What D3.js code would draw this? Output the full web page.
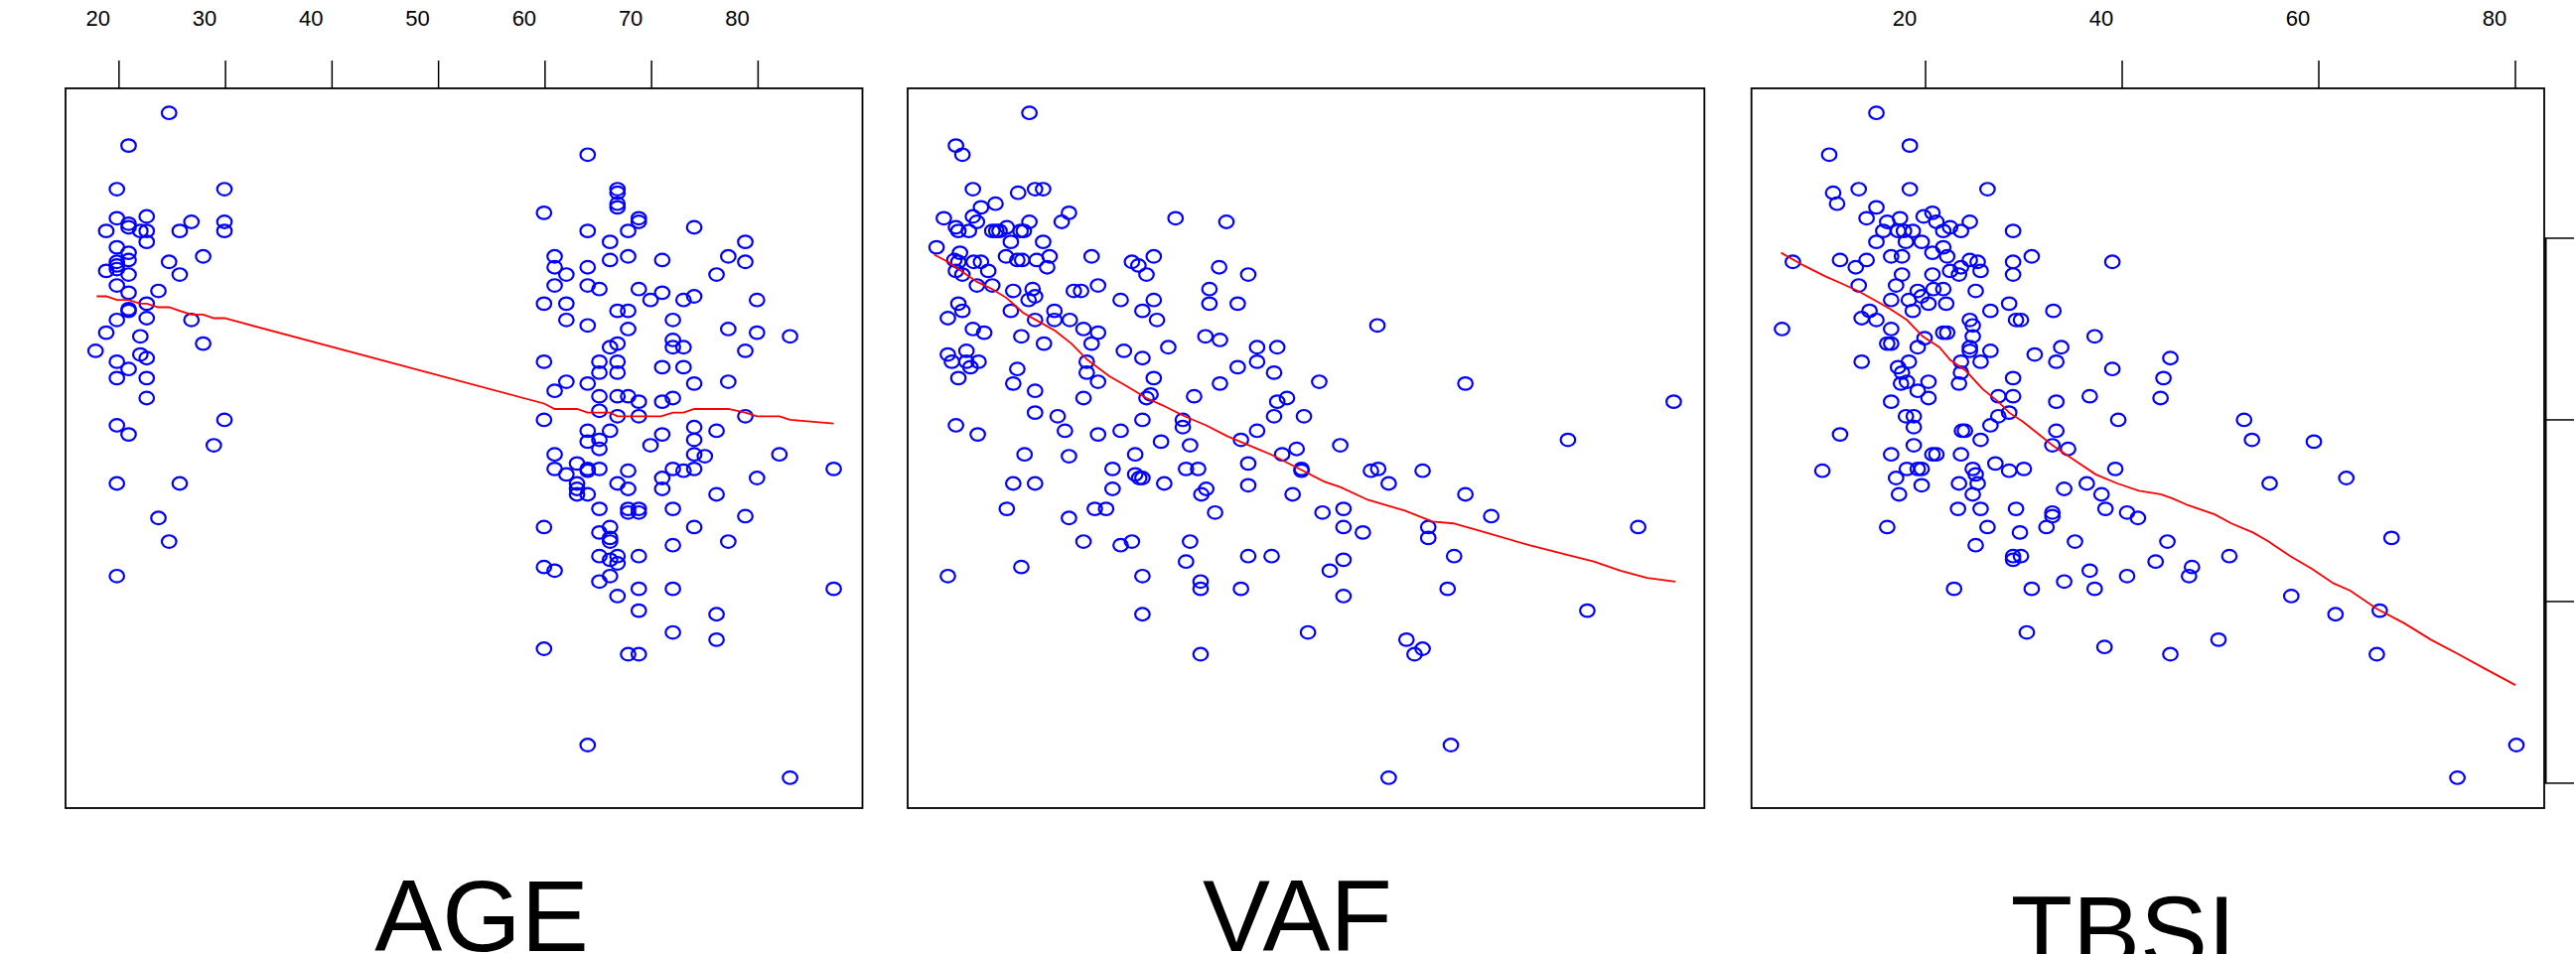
<!DOCTYPE html>
<html>
<head>
<meta charset="utf-8">
<script src="https://cdn.jsdelivr.net/npm/d3@7"></script>
<style>
  body { margin: 0; background: #fff; overflow: hidden; }
  svg { display: block; }
</style>
</head>
<body>
<svg id="chart"></svg>
<script>
// ---- data ----
const panelNames = ["AGE", "VAF", "TBSI"];
const ageTicks = [20, 30, 40, 50, 60, 70, 80];
const tbsiTicks = [20, 40, 60, 80];
const respTicks = [0, 1, 2, 3];

// [AGE, response]
const agePoints = [
  [24.7,3.69],[20.9,3.51],[19.8,3.27],[29.9,3.27],[19.8,3.11],[22.6,3.12],[20.9,3.08],[20.9,3.06],[26.8,3.09],[29.9,3.09],
  [18.8,3.04],[22.0,3.04],[22.6,3.04],[25.7,3.04],[29.9,3.04],[22.6,2.98],[19.8,2.95],[20.9,2.92],[27.9,2.90],
  [19.8,2.87],[20.9,2.88],[24.7,2.87],[18.8,2.82],[19.8,2.83],[19.8,2.85],[20.9,2.80],[25.7,2.80],[19.8,2.74],
  [20.9,2.70],[23.7,2.71],[22.6,2.64],[20.9,2.60],[20.9,2.61],[22.6,2.56],[19.8,2.55],[26.8,2.55],[18.8,2.48],[22.0,2.46],
  [27.9,2.42],[17.8,2.38],[22.0,2.36],[22.6,2.34],[19.8,2.32],[20.9,2.28],[19.8,2.23],[22.6,2.23],[22.6,2.12],
  [19.8,1.97],[20.9,1.92],[29.9,2.00],[28.9,1.86],[19.8,1.65],[25.7,1.65],[23.7,1.46],[24.7,1.33],[19.8,1.14],
  [64.0,3.46],[66.8,3.27],[66.8,3.25],[66.8,3.19],[66.8,3.17],[59.9,3.14],[68.8,3.11],[68.8,3.09],[74.0,3.06],
  [64.0,3.04],[67.8,3.04],[66.1,2.98],[78.8,2.98],[60.9,2.90],[67.8,2.90],[77.2,2.90],[66.1,2.88],[71.0,2.88],[78.8,2.87],
  [60.9,2.84],[64.0,2.84],[62.0,2.80],[76.1,2.80],[60.9,2.74],[64.0,2.74],[65.1,2.72],[68.8,2.72],[71.0,2.70],
  [74.0,2.68],[73.0,2.66],[69.9,2.66],[79.9,2.66],[59.9,2.64],[62.0,2.64],[66.8,2.60],[67.8,2.60],[62.0,2.55],[72.0,2.55],
  [64.0,2.52],[67.8,2.50],[77.2,2.50],[79.9,2.48],[83.0,2.46],[72.0,2.44],[66.8,2.42],[66.1,2.40],[72.0,2.40],[73.0,2.40],[78.8,2.38],
  [59.9,2.32],[65.1,2.32],[66.8,2.32],[71.0,2.29],[73.0,2.29],[65.1,2.26],[66.8,2.26],[62.0,2.21],[64.0,2.20],[74.0,2.20],[77.2,2.21],
  [60.9,2.16],[65.1,2.13],[66.8,2.13],[67.8,2.13],[68.8,2.10],[71.0,2.10],[72.0,2.12],[65.1,2.05],[66.8,2.02],[68.8,2.02],[78.8,2.02],
  [59.9,2.00],[74.0,1.96],[64.0,1.94],[66.1,1.94],[76.1,1.94],[71.0,1.92],[65.1,1.89],[74.0,1.89],[64.0,1.88],[65.1,1.84],[69.9,1.86],
  [60.9,1.81],[74.0,1.81],[75.0,1.80],[82.0,1.81],[63.0,1.76],[64.0,1.73],[60.9,1.73],[65.1,1.73],[62.0,1.70],[67.8,1.72],[72.0,1.73],
  [73.0,1.72],[74.0,1.73],[64.0,1.72],[71.0,1.68],[79.9,1.68],[63.0,1.65],[63.0,1.62],[66.8,1.65],[67.8,1.62],[71.0,1.62],
  [63.0,1.59],[64.0,1.59],[76.1,1.59],[65.1,1.51],[67.8,1.51],[67.8,1.49],[68.8,1.51],[68.8,1.49],[72.0,1.51],[78.8,1.47],
  [59.9,1.41],[66.1,1.41],[74.0,1.41],[65.1,1.38],[66.1,1.35],[66.1,1.33],[77.2,1.33],[72.0,1.31],
  [65.1,1.25],[66.8,1.25],[68.8,1.25],[66.1,1.23],[66.8,1.21],[59.9,1.19],[60.9,1.17],[66.1,1.14],[65.1,1.11],
  [68.8,1.07],[72.0,1.07],[87.1,1.07],[66.8,1.03],[68.8,0.95],[76.1,0.93],[72.0,0.83],[76.1,0.79],[59.9,0.74],
  [67.8,0.71],[68.8,0.71],[64.0,0.21],[83.0,0.03],[87.1,1.73]
];
const ageSmooth = [
  [17.9,2.68],[18.8,2.68],[19.8,2.66],[20.9,2.66],[22.0,2.64],[22.6,2.64],[23.7,2.62],[24.7,2.62],[25.7,2.60],[26.8,2.58],
  [27.9,2.58],[28.9,2.56],[29.9,2.56],[59.9,2.09],[60.9,2.06],[63.0,2.06],[64.0,2.04],[66.1,2.04],[66.8,2.02],[70.9,2.02],
  [72.0,2.04],[73.0,2.04],[74.0,2.06],[77.2,2.06],[78.8,2.04],[79.9,2.02],[82.0,2.02],[83.0,2.00],[87.1,1.98]
];

// [VAF, response]
const vafPoints = [
  [16.8,3.69],[7.7,3.51],[8.5,3.46],[9.8,3.27],[15.4,3.25],[17.5,3.27],[18.5,3.27],[12.6,3.19],[10.8,3.17],[21.7,3.14],
  [6.2,3.11],[9.8,3.12],[10.3,3.09],[16.8,3.09],[20.8,3.09],[7.7,3.06],[8.0,3.04],[9.3,3.04],[12.2,3.04],[12.7,3.04],[13.1,3.04],
  [14.0,3.06],[15.7,3.04],[16.1,3.04],[14.5,2.98],[18.5,2.98],[5.3,2.95],[8.2,2.92],[13.9,2.90],[19.3,2.90],[24.5,2.90],[32.2,2.90],
  [7.5,2.88],[8.0,2.87],[9.9,2.87],[10.8,2.87],[15.3,2.88],[15.9,2.88],[17.7,2.88],[29.5,2.87],[30.3,2.85],[31.3,2.80],[34.9,3.11],[41.2,3.09],
  [7.7,2.82],[8.5,2.80],[11.7,2.82],[19.0,2.84],[10.3,2.74],[12.2,2.74],[25.3,2.74],[22.3,2.71],[23.2,2.71],[17.2,2.72],[14.8,2.71],
  [17.5,2.68],[16.7,2.66],[39.1,2.72],[40.3,2.84],[43.9,2.80],[8.0,2.64],[8.5,2.60],[14.5,2.60],[19.9,2.60],[28.1,2.66],[30.8,2.60],
  [32.2,2.66],[39.1,2.64],[42.6,2.64],[6.7,2.56],[17.5,2.55],[19.9,2.55],[21.8,2.55],[32.6,2.55],[9.8,2.50],[11.2,2.48],[15.8,2.46],
  [23.5,2.50],[25.3,2.48],[38.6,2.46],[40.4,2.44],[59.9,2.52],[18.6,2.42],[24.5,2.42],[6.7,2.36],[9.0,2.38],[7.2,2.32],[9.0,2.32],
  [9.5,2.29],[10.5,2.32],[8.0,2.23],[15.3,2.28],[14.8,2.20],[28.5,2.38],[30.8,2.34],[34.0,2.40],[42.6,2.29],[45.0,2.40],[47.5,2.40],
  [45.0,2.32],[47.1,2.26],[23.9,2.32],[23.9,2.26],[25.3,2.21],[32.2,2.23],[40.4,2.20],[52.7,2.21],[70.8,2.20],[17.5,2.16],[23.5,2.12],
  [31.3,2.12],[31.8,2.14],[37.2,2.13],[47.5,2.10],[48.7,2.12],[17.5,2.04],[20.3,2.02],[30.8,2.00],[35.8,2.00],[35.8,1.96],[47.1,2.02],
  [50.8,2.02],[96.6,2.10],[7.7,1.97],[10.4,1.92],[21.2,1.94],[25.3,1.92],[28.1,1.94],[45.0,1.94],[33.1,1.88],[36.7,1.86],[43.0,1.89],
  [16.2,1.81],[21.7,1.80],[29.9,1.81],[48.1,1.81],[49.9,1.84],[55.3,1.86],[83.5,1.89],[27.1,1.73],[29.9,1.70],[30.4,1.68],[30.8,1.68],
  [33.5,1.65],[36.2,1.73],[37.7,1.73],[43.9,1.76],[50.5,1.73],[50.5,1.72],[59.1,1.72],[60.0,1.73],[65.5,1.72],[14.8,1.65],[17.5,1.65],
  [27.1,1.62],[38.1,1.59],[38.7,1.62],[43.9,1.64],[49.4,1.59],[61.3,1.65],[70.8,1.59],[14.0,1.51],[24.9,1.51],[26.3,1.51],[39.8,1.49],
  [53.1,1.49],[55.7,1.51],[21.7,1.46],[55.7,1.41],[58.1,1.38],[66.2,1.41],[66.2,1.35],[74.0,1.47],[92.2,1.41],[23.5,1.33],[28.1,1.31],
  [29.5,1.33],[36.7,1.33],[36.2,1.22],[43.9,1.25],[46.8,1.25],[55.7,1.23],[54.0,1.17],[69.4,1.25],[6.7,1.14],[15.8,1.19],[30.8,1.14],
  [38.0,1.11],[38.0,1.07],[43.0,1.07],[55.7,1.03],[68.6,1.07],[30.8,0.93],[85.9,0.95],[51.3,0.83],[63.5,0.79],[64.5,0.71],[65.5,0.74],
  [38.0,0.71],[69.0,0.21],[61.3,0.03]
];
const vafSmooth = [
  [5.0,2.91],[6.7,2.87],[8.0,2.83],[10.3,2.76],[12.2,2.72],[14.0,2.67],[16.0,2.59],[18.0,2.54],[20.0,2.49],[22.0,2.42],
  [24.0,2.33],[26.7,2.24],[28.7,2.19],[31.3,2.12],[33.3,2.08],[36.0,2.02],[38.7,1.97],[41.3,1.91],[44.0,1.86],[46.7,1.81],
  [50.7,1.72],[53.3,1.66],[55.3,1.63],[58.7,1.56],[63.3,1.50],[66.7,1.44],[69.3,1.43],[73.3,1.38],[78.7,1.31],[84.0,1.25],
  [86.7,1.22],[90.0,1.17],[93.3,1.13],[96.8,1.11]
];

// [TBSI, response]
const tbsiPoints = [
  [15.0,3.69],[10.2,3.46],[18.4,3.51],[10.6,3.25],[11.0,3.19],[13.2,3.27],[18.4,3.27],[26.3,3.27],[15.0,3.17],[20.7,3.14],
  [14.0,3.11],[16.1,3.09],[17.4,3.11],[19.8,3.12],[21.1,3.09],[22.5,3.06],[24.5,3.09],[15.7,3.04],[17.2,3.04],[17.8,3.04],
  [18.7,3.04],[21.8,3.04],[23.6,3.04],[28.9,3.04],[15.0,2.98],[18.0,2.98],[19.6,2.98],[21.8,2.95],[6.5,2.87],[11.3,2.88],
  [14.0,2.88],[16.5,2.90],[17.6,2.90],[20.7,2.92],[22.2,2.90],[24.5,2.88],[25.3,2.87],[25.6,2.82],[28.9,2.87],[28.9,2.80],
  [30.8,2.90],[39.0,2.87],[12.9,2.84],[13.2,2.74],[17.0,2.74],[17.6,2.80],[20.7,2.80],[22.5,2.82],[23.4,2.80],[23.6,2.84],
  [25.1,2.71],[21.8,2.72],[20.8,2.72],[19.2,2.71],[19.6,2.68],[16.5,2.66],[18.3,2.66],[20.3,2.64],[18.7,2.60],[22.1,2.64],
  [28.5,2.64],[33.0,2.60],[26.6,2.60],[5.4,2.50],[13.5,2.56],[14.3,2.60],[15.0,2.55],[16.5,2.50],[19.9,2.45],[19.2,2.40],
  [21.8,2.48],[22.2,2.48],[24.5,2.55],[24.8,2.52],[24.8,2.46],[24.5,2.40],[24.5,2.38],[29.2,2.55],[29.7,2.55],[26.6,2.38],
  [37.2,2.46],[13.5,2.32],[16.5,2.42],[16.1,2.42],[18.3,2.32],[17.2,2.29],[17.6,2.26],[17.5,2.20],[18.1,2.21],[20.3,2.21],
  [23.6,2.32],[23.6,2.26],[23.4,2.20],[25.6,2.32],[28.9,2.23],[31.1,2.36],[33.3,2.32],[33.8,2.40],[39.0,2.28],[44.9,2.34],
  [44.2,2.23],[16.5,2.10],[19.2,2.16],[20.3,2.12],[27.4,2.13],[28.9,2.13],[33.3,2.10],[36.7,2.13],[43.9,2.12],[18.0,2.02],
  [18.8,2.02],[18.8,1.96],[27.4,2.02],[28.5,2.04],[26.6,1.97],[52.4,2.00],[39.6,2.00],[11.3,1.92],[18.8,1.86],[23.7,1.94],
  [24.0,1.94],[25.6,1.89],[33.3,1.94],[32.9,1.86],[34.5,1.84],[53.2,1.89],[59.5,1.88],[9.5,1.72],[16.5,1.81],[18.1,1.73],
  [19.2,1.73],[19.6,1.73],[17.0,1.68],[17.3,1.59],[19.6,1.64],[20.7,1.81],[21.1,1.81],[23.6,1.81],[23.4,1.65],[24.8,1.73],
  [25.1,1.70],[25.3,1.65],[24.8,1.59],[27.1,1.76],[28.5,1.72],[30.0,1.73],[39.3,1.73],[36.4,1.65],[34.1,1.62],[37.9,1.59],
  [55.0,1.65],[62.8,1.68],[16.1,1.41],[23.3,1.51],[25.6,1.51],[26.3,1.41],[29.2,1.51],[25.1,1.31],[29.6,1.38],[32.3,1.41],
  [32.9,1.49],[32.9,1.47],[35.2,1.33],[38.3,1.51],[40.5,1.49],[41.6,1.46],[67.4,1.35],[28.9,1.25],[28.9,1.23],[29.7,1.25],
  [44.6,1.33],[36.7,1.17],[43.4,1.22],[47.1,1.19],[46.8,1.14],[50.9,1.25],[34.1,1.11],[40.5,1.14],[22.9,1.07],[30.8,1.07],
  [37.2,1.07],[57.2,1.03],[61.7,0.93],[66.2,0.95],[30.3,0.83],[38.2,0.75],[44.9,0.71],[49.8,0.79],[65.9,0.71],[80.1,0.21],
  [74.1,0.03]
];
const tbsiSmooth = [
  [5.3,2.92],[7.6,2.85],[9.8,2.79],[11.5,2.75],[13.1,2.71],[14.8,2.66],[16.4,2.61],[18.1,2.55],[19.7,2.46],[21.4,2.40],
  [22.5,2.33],[24.1,2.27],[25.8,2.17],[27.4,2.10],[28.5,2.04],[29.9,1.99],[31.3,1.93],[32.9,1.86],[35.1,1.78],[37.3,1.70],
  [39.5,1.65],[41.7,1.61],[43.9,1.59],[45.0,1.57],[46.7,1.53],[49.4,1.48],[51.1,1.43],[53.3,1.38],[54.9,1.33],[57.1,1.25],
  [59.3,1.18],[61.5,1.10],[63.2,1.06],[65.9,0.96],[68.7,0.88],[71.4,0.79],[74.2,0.71],[76.9,0.63],[80.0,0.54]
];

// ---- layout ----
const width = 2594, height = 961;
const plotTop = 89, plotBottom = 814;
const font = "'Liberation Sans', Arial, Helvetica, sans-serif";

const panels = [
  { name: panelNames[0], pts: agePoints,  smooth: ageSmooth,  left: 66,     right: 868.5,  domain: [14.98, 89.8], topTicks: ageTicks,  label: [485, 958] },
  { name: panelNames[1], pts: vafPoints,  smooth: vafSmooth,  left: 914,    right: 1716.3, domain: [1.72, 100.4], topTicks: null,      label: [1306.5, 958] },
  { name: panelNames[2], pts: tbsiPoints, smooth: tbsiSmooth, left: 1763.7, right: 2562,   domain: [2.29, 82.93], topTicks: tbsiTicks, label: [2138, 974], rightAxis: true }
];

const svg = d3.select("#chart")
  .attr("width", width)
  .attr("height", height)
  .style("font-family", font);

svg.append("rect").attr("width", width).attr("height", height).attr("fill", "#fff");

const y = d3.scaleLinear().domain([-0.137, 3.825]).range([plotBottom, plotTop]);

panels.forEach(p => {
  const x = d3.scaleLinear().domain(p.domain).range([p.left, p.right]);
  const g = svg.append("g");

  // points
  g.selectAll("ellipse")
    .data(p.pts)
    .join("ellipse")
    .attr("cx", d => x(d[0]))
    .attr("cy", d => y(d[1]))
    .attr("rx", 7.3)
    .attr("ry", 6.3)
    .attr("fill", "none")
    .attr("stroke", "#0000ff")
    .attr("stroke-width", 2.2);

  // smoother
  g.append("path")
    .datum(p.smooth)
    .attr("d", d3.line().x(d => x(d[0])).y(d => y(d[1])))
    .attr("fill", "none")
    .attr("stroke", "#ff0000")
    .attr("stroke-width", 1.8);

  // frame
  g.append("rect")
    .attr("x", p.left).attr("y", plotTop)
    .attr("width", p.right - p.left).attr("height", plotBottom - plotTop)
    .attr("fill", "none")
    .attr("stroke", "#000")
    .attr("stroke-width", 1.8);

  // top axis
  if (p.topTicks) {
    g.selectAll(".tick")
      .data(p.topTicks)
      .join("line")
      .attr("class", "tick")
      .attr("x1", d => x(d)).attr("x2", d => x(d))
      .attr("y1", plotTop - 28).attr("y2", plotTop)
      .attr("stroke", "#000")
      .attr("stroke-width", 1.5);
    g.selectAll(".tlabel")
      .data(p.topTicks)
      .join("text")
      .attr("class", "tlabel")
      .attr("x", d => x(d) - 21)
      .attr("y", 26)
      .attr("text-anchor", "middle")
      .style("font-size", "22px")
      .text(d => d);
  }

  // right axis (labels fall outside the picture)
  if (p.rightAxis) {
    g.append("line")
      .attr("x1", p.right + 1.5).attr("x2", p.right + 1.5)
      .attr("y1", y(d3.max(respTicks))).attr("y2", y(d3.min(respTicks)))
      .attr("stroke", "#000").attr("stroke-width", 2);
    g.selectAll(".rtick")
      .data(respTicks)
      .join("line")
      .attr("class", "rtick")
      .attr("x1", p.right).attr("x2", p.right + 30)
      .attr("y1", d => y(d)).attr("y2", d => y(d))
      .attr("stroke", "#000")
      .attr("stroke-width", 1.5);
  }

  // variable name below the panel
  svg.append("text")
    .attr("x", p.label[0])
    .attr("y", p.label[1])
    .attr("text-anchor", "middle")
    .style("font-size", "102px")
    .text(p.name);
});
</script>
</body>
</html>
